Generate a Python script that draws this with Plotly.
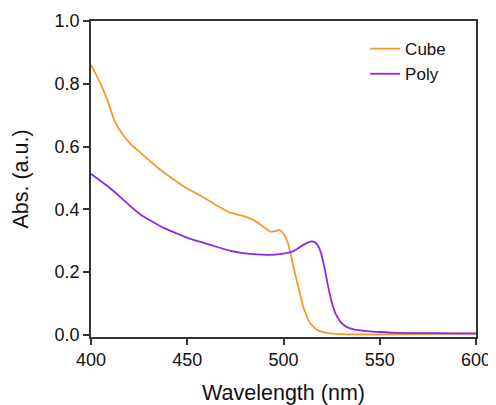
import plotly.graph_objects as go

cube_wl = [400, 405, 409, 412, 416, 421, 426, 430, 435, 442, 450, 457, 462, 466, 472, 479, 484, 489, 493, 496, 498, 500, 502, 504, 506, 508, 510, 512, 514, 517, 520, 525, 530, 550, 570, 590, 600]
cube_abs = [0.86, 0.80, 0.74, 0.685, 0.642, 0.605, 0.579, 0.557, 0.531, 0.499, 0.466, 0.443, 0.425, 0.41, 0.39, 0.379, 0.367, 0.347, 0.329, 0.331, 0.334, 0.322, 0.298, 0.25, 0.195, 0.145, 0.095, 0.06, 0.036, 0.018, 0.009, 0.004, 0.002, 0.001, 0.002, 0.004, 0.005]

poly_wl = [400, 405, 409, 416, 421, 426, 432, 438, 445, 450, 457, 466, 472, 479, 486, 493, 498, 502, 505, 508, 511, 514, 516, 518, 519.5, 521, 523, 525, 527, 529.5, 532, 535, 540, 545, 550, 560, 580, 600]
poly_abs = [0.513, 0.49, 0.472, 0.435, 0.407, 0.382, 0.36, 0.34, 0.322, 0.309, 0.296, 0.279, 0.268, 0.26, 0.256, 0.255, 0.257, 0.261, 0.266, 0.277, 0.289, 0.297, 0.296, 0.283, 0.26, 0.222, 0.16, 0.105, 0.068, 0.042, 0.028, 0.02, 0.014, 0.011, 0.009, 0.006, 0.005, 0.004]

x_ticks = [400, 450, 500, 550, 600]
y_ticks = [0.0, 0.2, 0.4, 0.6, 0.8, 1.0]

FONT = "Liberation Sans, Arial, sans-serif"
TXT = "#111111"

fig = go.Figure()
fig.add_trace(go.Scatter(x=cube_wl, y=cube_abs, mode="lines", name="Cube",
                         line=dict(color="#F39A2E", width=1.8, shape="spline", smoothing=0.6)))
fig.add_trace(go.Scatter(x=poly_wl, y=poly_abs, mode="lines", name="Poly",
                         line=dict(color="#8A2BE2", width=1.8, shape="spline", smoothing=0.6)))

axis_common = dict(showline=True, linecolor="#333333", linewidth=1.5, mirror=True,
                   ticks="outside", ticklen=6, tickwidth=1.5, tickcolor="#333333",
                   showgrid=False, zeroline=False, ticklabeloverflow="allow",
                   tickfont=dict(family=FONT, size=18, color=TXT))

fig.update_xaxes(range=[400, 600], tickvals=x_ticks,
                 title=dict(text="Wavelength (nm)", font=dict(family=FONT, size=21.5, color=TXT), standoff=22),
                 **axis_common)
fig.update_yaxes(range=[-0.007, 1.0], tickvals=y_ticks, tickformat=".1f",
                 title=dict(text="Abs. (a.u.)", font=dict(family=FONT, size=21.5, color=TXT), standoff=20),
                 **axis_common)

fig.update_layout(
    width=488, height=397,
    margin=dict(l=83, r=20, t=13, b=68, autoexpand=False),
    paper_bgcolor="white", plot_bgcolor="white",
    font=dict(family=FONT, size=18, color=TXT),
    legend=dict(x=0.712, y=0.968, xanchor="left", yanchor="top",
                bgcolor="rgba(0,0,0,0)", font=dict(family=FONT, size=17, color=TXT),
                tracegroupgap=0, itemwidth=30),
    showlegend=True,
)

fig.write_html("out.html")
